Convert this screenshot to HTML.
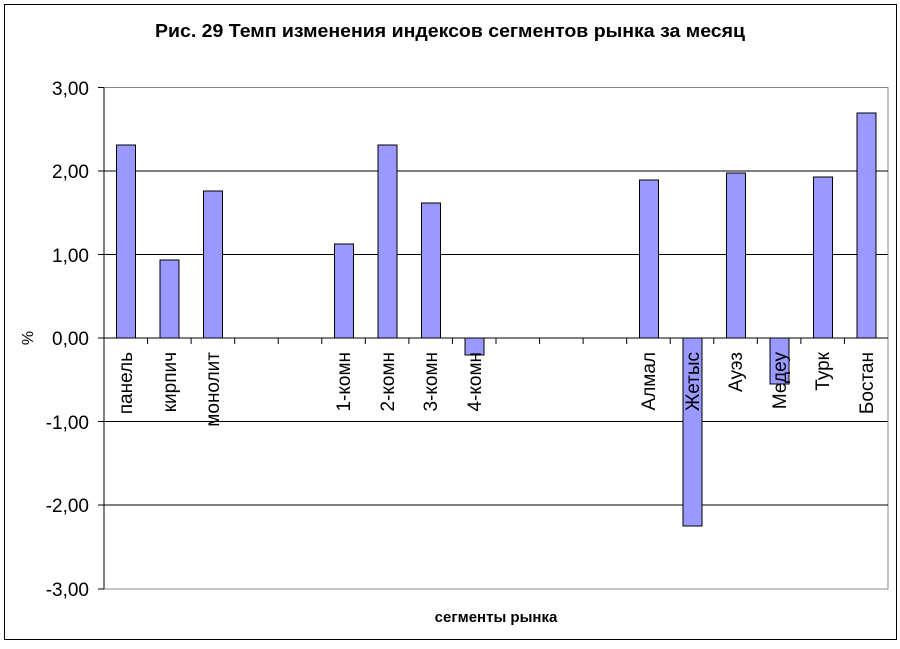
<!DOCTYPE html>
<html><head><meta charset="utf-8"><style>body{margin:0;background:#fff}</style></head><body>
<svg width="900" height="644" xmlns="http://www.w3.org/2000/svg" font-family="Liberation Sans, sans-serif">
<rect x="0" y="0" width="900" height="644" fill="#fff"/>
<rect x="4.5" y="4.5" width="892" height="635" fill="none" stroke="#000" stroke-width="1"/>
<text x="155" y="37" font-size="18" font-weight="bold" textLength="590" lengthAdjust="spacingAndGlyphs">Рис. 29 Темп изменения индексов сегментов рынка за месяц</text>
<rect x="104" y="87.5" width="784" height="501.5" fill="none" stroke="#888" stroke-width="1"/>
<g stroke="#000" stroke-width="1">
<line x1="104" y1="171" x2="888" y2="171"/><line x1="104" y1="254.5" x2="888" y2="254.5"/>
<line x1="104" y1="421.5" x2="888" y2="421.5"/><line x1="104" y1="505" x2="888" y2="505"/>
<line x1="104" y1="87.5" x2="104" y2="589"/>
<line x1="98" y1="87.5" x2="104" y2="87.5"/><line x1="98" y1="171" x2="104" y2="171"/><line x1="98" y1="254.5" x2="104" y2="254.5"/><line x1="98" y1="338" x2="104" y2="338"/><line x1="98" y1="421.5" x2="104" y2="421.5"/><line x1="98" y1="505" x2="104" y2="505"/><line x1="98" y1="589" x2="104" y2="589"/>
</g>
<g font-size="19" text-anchor="end">
<text x="89" y="95">3,00</text><text x="89" y="178">2,00</text><text x="89" y="262">1,00</text><text x="89" y="345">0,00</text><text x="89" y="429">-1,00</text><text x="89" y="512">-2,00</text><text x="89" y="596">-3,00</text>
</g>
<text transform="translate(33,338) rotate(-90)" font-size="16" text-anchor="middle">%</text>
<text x="496" y="622" font-size="15" font-weight="bold" text-anchor="middle">сегменты рынка</text>
<g fill="#9999ff" stroke="#000" stroke-width="1">
<rect x="116.5" y="145" width="19" height="193"/>
<rect x="160" y="260" width="19" height="78"/>
<rect x="203.5" y="191" width="19" height="147"/>
<rect x="334.5" y="244" width="19" height="94"/>
<rect x="378" y="145" width="19" height="193"/>
<rect x="421.5" y="203" width="19" height="135"/>
<rect x="465" y="338" width="19" height="17"/>
<rect x="639.5" y="180" width="19" height="158"/>
<rect x="683" y="338" width="19" height="188"/>
<rect x="726.5" y="173" width="19" height="165"/>
<rect x="770" y="338" width="19" height="46"/>
<rect x="813.5" y="177" width="19" height="161"/>
<rect x="857" y="113" width="19" height="225"/>
</g>
<line x1="104" y1="338" x2="888" y2="338" stroke="#000"/>
<g stroke="#000">
<line x1="147.6" y1="338" x2="147.6" y2="344"/><line x1="191.1" y1="338" x2="191.1" y2="344"/><line x1="234.7" y1="338" x2="234.7" y2="344"/><line x1="278.2" y1="338" x2="278.2" y2="344"/><line x1="321.8" y1="338" x2="321.8" y2="344"/><line x1="365.3" y1="338" x2="365.3" y2="344"/><line x1="408.9" y1="338" x2="408.9" y2="344"/><line x1="452.4" y1="338" x2="452.4" y2="344"/><line x1="496" y1="338" x2="496" y2="344"/><line x1="539.6" y1="338" x2="539.6" y2="344"/><line x1="583.1" y1="338" x2="583.1" y2="344"/><line x1="626.7" y1="338" x2="626.7" y2="344"/><line x1="670.2" y1="338" x2="670.2" y2="344"/><line x1="713.8" y1="338" x2="713.8" y2="344"/><line x1="757.3" y1="338" x2="757.3" y2="344"/><line x1="800.9" y1="338" x2="800.9" y2="344"/><line x1="844.4" y1="338" x2="844.4" y2="344"/>
</g>
<g font-size="19" text-anchor="end">
<text transform="translate(132,352) rotate(-90)">панель</text>
<text transform="translate(176,352) rotate(-90)">кирпич</text>
<text transform="translate(219,352) rotate(-90)">монолит</text>
<text transform="translate(350,352) rotate(-90)">1-комн</text>
<text transform="translate(394,352) rotate(-90)">2-комн</text>
<text transform="translate(437,352) rotate(-90)">3-комн</text>
<text transform="translate(481,352) rotate(-90)">4-комн</text>
<text transform="translate(655,352) rotate(-90)">Алмал</text>
<text transform="translate(699,352) rotate(-90)">Жетыс</text>
<text transform="translate(742,352) rotate(-90)">Ауэз</text>
<text transform="translate(786,352) rotate(-90)">Медеу</text>
<text transform="translate(829,352) rotate(-90)">Турк</text>
<text transform="translate(873,352) rotate(-90)">Бостан</text>
</g>
</svg>
</body></html>
